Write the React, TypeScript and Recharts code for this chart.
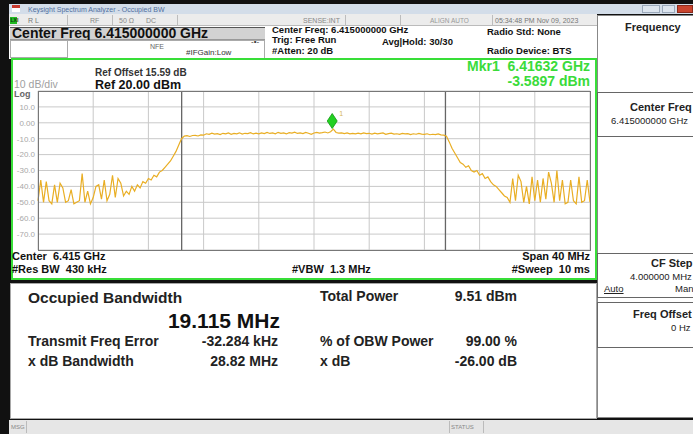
import React from 'react';
import { LineChart, Line, XAxis, YAxis, CartesianGrid, ReferenceLine, ReferenceDot } from 'recharts';

const FONT = '"Liberation Sans", Arial, sans-serif';

// sweep, in MHz from the 6.415 GHz center
const SPAN_START = -20;
const SPAN_STOP = 20;
const POINT_STEP = 0.2;

const X_TICKS = [-20, -16, -12, -8, -4, 0, 4, 8, 12, 16, 20];
const Y_TICKS = [20, 10, 0, -10, -20, -30, -40, -50, -60, -70, -80];

// trace readings (dBm), left to right
const leftNoise = [
  -49, -36, -50, -37, -49, -51, -39, -50, -38, -41, -50, -49, -42, -51, -50, -49,
  -32, -50, -43, -51, -47, -40, -39, -48, -36, -49, -45, -33, -47, -35, -38, -46,
];
const leftSkirt = [
  -43, -45, -40, -43, -39, -41, -37, -38, -35, -36, -33, -34, -31, -30, -28, -26,
  -24, -21, -18, -14, -10,
];
const inBand = [
  -8.4, -8.1, -8.6, -8.0, -7.9, -8.3, -7.6, -7.8,
  -6.9, -7.3, -6.5, -7.1, -6.8, -7.4, -6.6, -7.0, -6.4, -7.2, -6.7, -6.9, -6.3, -7.1, -6.6, -6.8, -6.2, -7.0, -6.5, -6.9,
  -6.4, -6.8, -6.1, -6.7, -6.3, -6.9, -6.0, -6.6, -6.4, -7.0, -6.2, -6.5, -5.9, -6.7, -6.3, -6.8, -6.1, -6.6, -7.2, -6.4,
  -6.0, -6.5, -6.2, -5.8, -6.4, -5.6, -4.0, -6.1, -6.5, -6.3, -6.8, -6.4, -6.9, -6.6, -7.0, -6.5, -6.9, -6.3, -6.8, -6.6,
  -7.1, -6.5, -7.0, -6.7, -6.4, -7.2, -6.8, -6.5, -7.1, -6.9, -7.3, -6.7, -7.0, -6.8, -7.4, -6.9, -7.2, -6.7, -7.1, -7.3,
  -6.9, -7.5, -7.2, -7.4, -7.0, -7.6, -7.8,
];
const bandEdge = [-8.5];
const rightSkirt = [
  -12, -16, -19, -22, -25, -26, -28, -27, -30, -31, -30, -33, -32, -35, -34, -37,
  -39, -40, -42, -44, -46, -47,
];
const rightNoise = [
  -50, -35, -49, -33, -37, -50, -40, -51, -34, -49, -36, -50, -35, -48, -31,
  -38, -50, -30, -49, -36, -51, -50, -36, -49, -51, -34, -50, -49, -36, -50,
];

const MARKER_OFFSET = 1.32;
const MARKER_LEVEL = -3.5897;
const OBW_MHZ = 19.115;
const FREQ_ERR_MHZ = -0.032284;

const trace = [...leftNoise, ...leftSkirt, ...inBand, ...bandEdge, ...rightSkirt, ...rightNoise];
const data = trace.map((v, i) => ({ f: +(SPAN_START + i * POINT_STEP).toFixed(2), dbm: v }));

const obwLeft = FREQ_ERR_MHZ - OBW_MHZ / 2;
const obwRight = FREQ_ERR_MHZ + OBW_MHZ / 2;

const fmtY = (v: number) => (v === 20 || v === -80 ? '' : v === 0 ? '0.00' : v.toFixed(1));

const MarkerShape = (props: any) => {
  const { cx, cy } = props;
  return (
    <g>
      <polygon
        points={`${cx},${cy - 15} ${cx + 5},${cy - 7.5} ${cx},${cy} ${cx - 5},${cy - 7.5}`}
        fill="#22D022"
        stroke="#119911"
        strokeWidth={0.8}
      />
      <text x={cx + 7} y={cy - 13} fontSize={7} fill="#D6B65A" fontFamily={FONT}>1</text>
    </g>
  );
};

type TProps = {
  x: number;
  y: number;
  size: number;
  bold?: boolean;
  color?: string;
  right?: boolean;
  children: React.ReactNode;
  underline?: boolean;
};

// text placed by its vertical center
function T({ x, y, size, bold, color = '#111', right, children, underline }: TProps) {
  const h = Math.round(size * 1.05);
  const pos: React.CSSProperties = right ? { right: 693 - x, textAlign: 'right' } : { left: x };
  return (
    <div
      style={{
        position: 'absolute',
        top: y - h / 2,
        height: h,
        lineHeight: `${h}px`,
        fontSize: size,
        fontWeight: bold ? 700 : 400,
        color,
        whiteSpace: 'pre',
        textDecoration: underline ? 'underline' : 'none',
        ...pos,
      }}
    >
      {children}
    </div>
  );
}

const box = (left: number, top: number, width: number, height: number, extra: React.CSSProperties = {}) => (
  <div style={{ position: 'absolute', left, top, width, height, boxSizing: 'border-box', ...extra }} />
);

export default function App() {
  return (
    <div
      style={{
        position: 'absolute',
        left: 0,
        top: 0,
        width: 693,
        height: 434,
        background: '#111',
        overflow: 'hidden',
        fontFamily: FONT,
      }}
    >
      {/* window title */}
      {box(9, 4, 684, 10, { background: '#D3DDE9' })}
      {box(12, 5, 8, 7, { background: '#fff', borderTop: '3px solid #C83A2E' })}
      <T x={28} y={9} size={7} color="#5270A0">Keysight Spectrum Analyzer - Occupied BW</T>
      {box(642, 5, 18, 8, { background: '#DCE4EE', border: '1px solid #9AA8BA' })}
      {box(662, 5, 13, 8, { background: '#DCE4EE', border: '1px solid #9AA8BA' })}
      {box(677, 5, 16, 8, { background: '#C9452F', border: '1px solid #8A2A1C' })}

      {/* status row */}
      {box(9, 14, 588, 12, { background: '#ECECEC', borderBottom: '1px solid #BBB' })}
      {box(10, 17, 7, 7, { background: '#22BB22' })}
      <T x={10.5} y={20.5} size={5} color="#113311" bold>LXI</T>
      <T x={28} y={20.5} size={7} color="#777">R L</T>
      <T x={90} y={20.5} size={7} color="#888">RF</T>
      <T x={119} y={20.5} size={7} color="#888">50 Ω</T>
      <T x={146} y={20.5} size={7} color="#888">DC</T>
      <T x={303} y={20.5} size={7} color="#888">SENSE:INT</T>
      <T x={430} y={20.5} size={6.5} color="#999">ALIGN AUTO</T>
      <T x={495} y={20.5} size={7} color="#777">05:34:48 PM Nov 09, 2023</T>
      {[67, 112, 177, 345, 400, 492].map((x) => box(x, 15, 1, 11, { background: '#BDBDBD' }))}

      {/* header */}
      {box(9, 26, 588, 33, { background: '#fff' })}
      {box(10, 27, 255, 13, { background: '#D2D2D2', borderTop: '1px solid #555', borderBottom: '1px solid #999' })}
      <T x={12} y={33.5} size={14} bold>Center Freq 6.415000000 GHz</T>
      {box(10, 40, 58, 18, { border: '1px solid #AAA', background: '#fff' })}
      {box(68, 40, 197, 18, { borderTop: '1px solid #AAA', borderRight: '1px solid #AAA' })}
      <T x={150} y={46} size={7} color="#666">NFE</T>
      <T x={186} y={53} size={8} color="#333">#IFGain:Low</T>
      <T x={251} y={42} size={8} color="#333">{'-•-'}</T>
      <T x={272} y={30} size={9.5} bold>Center Freq: 6.415000000 GHz</T>
      <T x={272} y={40} size={9.5} bold>Trig: Free Run</T>
      <T x={272} y={51} size={9.5} bold>#Atten: 20 dB</T>
      <T x={382} y={42} size={9.5} bold>Avg|Hold: 30/30</T>
      <T x={487} y={32} size={9.5} bold>Radio Std: None</T>
      <T x={487} y={51} size={9.5} bold>Radio Device: BTS</T>

      {/* graph frame */}
      {box(11, 58, 586, 222, { background: '#fff', border: '2px solid #38DE38' })}
      <T x={14} y={84} size={10.5} color="#A0A0A0">10 dB/div</T>
      <T x={14} y={94} size={9} color="#666" bold>Log</T>
      <T x={95} y={72} size={10} bold color="#333">Ref Offset 15.59 dB</T>
      <T x={95} y={85} size={12.5} bold>Ref 20.00 dBm</T>
      <T x={590} y={66} size={14} bold right color="#3ADB3A">{'Mkr1  6.41632 GHz'}</T>
      <T x={590} y={81} size={14} bold right color="#3ADB3A">-3.5897 dBm</T>

      <div style={{ position: 'absolute', left: 12, top: 85 }}>
        <LineChart width={578} height={165} data={data} margin={{ top: 6, right: 0, bottom: 0, left: 0 }}>
          <CartesianGrid stroke="#C9C9C9" strokeWidth={1} />
          <XAxis dataKey="f" type="number" domain={[SPAN_START, SPAN_STOP]} ticks={X_TICKS} hide />
          <YAxis
            type="number"
            domain={[-80, 20]}
            ticks={Y_TICKS}
            interval={0}
            width={26}
            tickLine={false}
            axisLine={false}
            tickSize={0}
            tickMargin={3}
            tick={{ fill: '#A8A8A8', fontSize: 8, fontFamily: FONT }}
            tickFormatter={fmtY}
          />
          <ReferenceLine x={obwLeft} stroke="#666" strokeWidth={1.3} />
          <ReferenceLine x={obwRight} stroke="#666" strokeWidth={1.3} />
          <Line type="linear" dataKey="dbm" stroke="#E9AE24" strokeWidth={1.2} dot={false} isAnimationActive={false} />
          <ReferenceDot x={MARKER_OFFSET} y={MARKER_LEVEL} shape={MarkerShape} />
        </LineChart>
      </div>
      {box(38, 91, 553, 160, { border: '1px solid #777', pointerEvents: 'none' })}

      <T x={12} y={256} size={11} bold>{'Center  6.415 GHz'}</T>
      <T x={590} y={256} size={11} bold right>{'Span 40 MHz'}</T>
      <T x={12} y={269} size={11} bold>{'#Res BW  430 kHz'}</T>
      <T x={292} y={269} size={11} bold>{'#VBW  1.3 MHz'}</T>
      <T x={590} y={269} size={11} bold right>{'#Sweep  10 ms'}</T>

      {/* results panel */}
      {box(10, 283, 587, 136, { background: '#fff', border: '1px solid #A8A8A8' })}
      <T x={28} y={298} size={15.5} bold color="#222">Occupied Bandwidth</T>
      <T x={280} y={321} size={21} bold right>19.115 MHz</T>
      <T x={320} y={296} size={14} bold color="#222">Total Power</T>
      <T x={517} y={296} size={14} bold right color="#222">9.51 dBm</T>
      <T x={28} y={341} size={14} bold color="#222">Transmit Freq Error</T>
      <T x={278} y={341} size={14} bold right color="#222">-32.284 kHz</T>
      <T x={320} y={341} size={14} bold color="#222">% of OBW Power</T>
      <T x={517} y={341} size={14} bold right color="#222">99.00 %</T>
      <T x={28} y={361} size={14} bold color="#222">x dB Bandwidth</T>
      <T x={278} y={361} size={14} bold right color="#222">28.82 MHz</T>
      <T x={320} y={361} size={14} bold color="#222">x dB</T>
      <T x={517} y={361} size={14} bold right color="#222">-26.00 dB</T>

      {/* bottom status */}
      {box(9, 420, 684, 14, { background: '#E6E6E6' })}
      <T x={11} y={427} size={6} color="#888">MSG</T>
      {box(26, 421, 1, 12, { background: '#BBB' })}
      <T x={451} y={427} size={6} color="#888">STATUS</T>
      {box(449, 421, 1, 12, { background: '#BBB' })}
      {box(483, 421, 1, 12, { background: '#BBB' })}

      {/* softkey panel */}
      {box(597, 15, 100, 403, { background: '#fff', border: '1px solid #888' })}
      <T x={625} y={27} size={11} bold color="#222">Frequency</T>
      {box(597, 92, 100, 45, { border: '1px solid #666' })}
      <T x={630} y={107} size={11} bold color="#222">Center Freq</T>
      <T x={611} y={121} size={9.5} color="#222">6.415000000 GHz</T>
      {box(597, 253, 100, 45, { border: '1px solid #666' })}
      <T x={651} y={263} size={11} bold color="#222">CF Step</T>
      <T x={630} y={277} size={9.5} color="#222">4.000000 MHz</T>
      <T x={604} y={289} size={9.5} color="#222" underline>Auto</T>
      <T x={675} y={289} size={9.5} color="#222">Man</T>
      {box(597, 302, 100, 46, { border: '1px solid #666' })}
      <T x={633} y={314} size={11} bold color="#222">Freq Offset</T>
      <T x={671} y={328} size={9.5} color="#222">0 Hz</T>
    </div>
  );
}
